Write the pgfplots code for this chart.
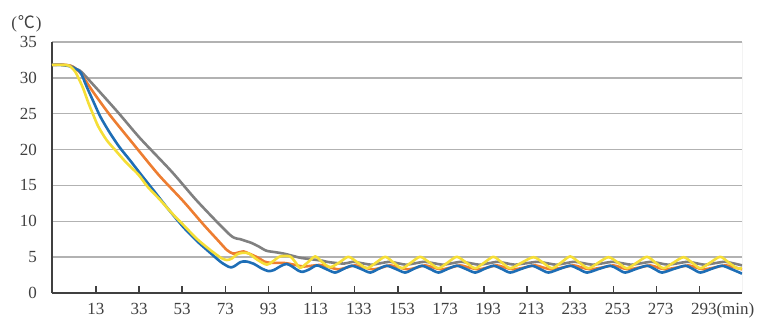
\documentclass[border=0pt]{standalone}
\usepackage{pgfplots}
\pgfplotsset{compat=1.18}
\usepackage{fontspec}
\setmainfont{Liberation Serif}
\newfontfamily\cjk{Noto Sans CJK SC}
\definecolor{cblue}{RGB}{30,110,182}
\definecolor{corange}{RGB}{237,125,49}
\definecolor{cgray}{RGB}{128,128,128}
\definecolor{cyellow}{RGB}{245,222,55}
\definecolor{axdark}{RGB}{64,64,64}
\definecolor{gridc}{RGB}{178,178,178}
\begin{document}
\begin{tikzpicture}
\useasboundingbox (-52bp,-25bp) rectangle (714bp,293bp);
\begin{axis}[
  at={(0,0)}, anchor=south west,
  scale only axis, width=690bp, height=251bp,
  xmin=-7.4, xmax=312.7, ymin=0, ymax=35,
  enlargelimits=false,
  axis lines=left,
  axis line style={-, line width=2.4bp, color=axdark},
  xtick={13,33,53,73,93,113,133,153,173,193,213,233,253,273,293},
  xticklabels={13,33,53,73,93,113,133,153,173,193,213,233,253,273,293(min)},
  ytick={0,5,10,15,20,25,30,35},
  yticklabels={0,5,10,15,20,25,30,35},
  tick align=inside,
  major tick length=7bp,
  xtick style={line width=1.6bp, color=axdark},
  ytick style={draw=none},
  ymajorgrids,
  grid style={line width=1.4bp, color=gridc},
  tick label style={font=\fontsize{17bp}{20bp}\selectfont, text=black!75, inner sep=0pt},
  xticklabel style={anchor=north west, xshift=-8.7bp, yshift=-10bp},
  yticklabel style={anchor=east, xshift=-15bp},
  every axis plot/.append style={line width=2.6bp, smooth, tension=0.45, line join=round},
]
\draw[line width=0.8bp, color=gridc!90!black] (rel axis cs:1,0) -- (rel axis cs:1,1);
% gray
\addplot[color=cgray] coordinates {
(-7.4,31.8) (-3,31.8) (0,31.75) (2,31.6) (4,31.2) (7,30.6) (22.6,25.4) (33.4,21.6) (48.2,16.9) (60,12.8) (75.2,8.1)
(80,7.5) (85,7.0) (88.4,6.5) (92,5.9) (96,5.7) (100,5.5) (104,5.2) (108,4.9) (113,4.7) (118,4.5) (121,4.3)
(128.1,4.1) (132.1,4.35) (136.4,4.15) (140.7,3.95) (145.0,4.15) (149.2,4.35) (153.0,4.15) (156.9,3.95)
(161.2,4.15) (165.4,4.35) (169.7,4.15) (173.9,3.95) (178.2,4.15) (182.4,4.35) (186.7,4.15) (190.9,3.95)
(195.2,4.15) (199.4,4.35) (203.3,4.15) (207.2,3.95) (212.6,4.15) (218.0,4.35) (222.3,4.15) (226.5,3.95)
(230.8,4.15) (235.0,4.35) (239.2,4.15) (243.5,3.95) (248.2,4.15) (252.8,4.35) (257.1,4.15) (261.3,3.95)
(266.0,4.15) (270.6,4.35) (274.5,4.15) (278.3,3.95) (283.0,4.15) (287.6,4.35) (291.5,4.15) (295.4,3.95)
(300.0,4.15) (304.6,4.35) (308.5,4.15) (312.7,3.85)
};
% orange
\addplot[color=corange] coordinates {
(-7.4,31.8) (-3,31.85) (1,31.7) (3.5,31.3) (6,30.6) (8,29.7) (12,27.9) (19.5,24.8) (30,20.9) (42,16.5)
(53.5,12.8) (63,9.5) (70,7.2) (73.7,6.0) (76.5,5.5) (78.5,5.6) (81.4,5.8) (84,5.5) (88.4,4.9) (91,4.4)
(94,4.2) (100,4.2) (104,4.0) (109,3.7) (113,3.8) (117,3.9) (121.3,3.6)
(125.4,3.3) (129.3,3.55) (133.2,3.85) (137.5,3.55) (141.7,3.3) (145.5,3.55) (149.4,3.85) (153.6,3.55)
(157.9,3.3) (161.8,3.55) (165.7,3.85) (169.5,3.55) (173.4,3.3) (177.6,3.55) (181.9,3.85) (186.1,3.55)
(190.4,3.3) (194.6,3.55) (198.9,3.85) (202.8,3.55) (206.7,3.3) (211.7,3.55) (216.7,3.85) (220.5,3.55)
(224.4,3.3) (229.5,3.55) (234.5,3.85) (238.4,3.55) (242.3,3.3) (247.7,3.55) (253.1,3.85) (256.5,3.55)
(260.0,3.3) (265.0,3.55) (270.1,3.85) (273.6,3.55) (277.1,3.3) (282.5,3.55) (287.9,3.85) (291.4,3.55)
(294.9,3.3) (299.9,3.55) (304.9,3.85) (309,3.6) (312.7,3.3)
};
% blue
\addplot[color=cblue] coordinates {
(-7.4,31.8) (-3,31.8) (1,31.6) (4,31.2) (6,30.7) (8.5,28.9) (11.8,26.7) (15,24.6) (19.5,22.3) (24,20.3)
(28.8,18.5) (34.2,16.4) (40,14.2) (46,11.9) (53.5,9.2) (60,7.2) (66,5.6) (71,4.3) (75,3.6) (77,3.7)
(80,4.3) (82.5,4.4) (86,4.1) (90,3.4) (93,3.05) (95.5,3.2) (99,3.8) (101.5,4.05) (104,3.7) (107,3.1)
(109,2.95) (112,3.3) (115.5,3.85) (119.7,3.35)
(123.9,2.85) (127.8,3.35) (131.7,3.8) (136.0,3.35) (140.2,2.85) (144.0,3.35) (147.9,3.8) (152.1,3.35)
(156.4,2.85) (160.3,3.35) (164.2,3.8) (168.0,3.35) (171.9,2.85) (176.1,3.35) (180.4,3.8) (184.6,3.35)
(188.9,2.85) (193.1,3.35) (197.4,3.8) (201.3,3.35) (205.2,2.85) (210.2,3.35) (215.2,3.8) (219.0,3.35)
(222.9,2.85) (228.0,3.35) (233.0,3.8) (236.9,3.35) (240.8,2.85) (246.2,3.35) (251.6,3.8) (255.0,3.35)
(258.5,2.85) (263.5,3.35) (268.6,3.8) (272.1,3.35) (275.6,2.85) (281.0,3.35) (286.4,3.8) (289.9,3.35)
(293.4,2.85) (298.4,3.35) (303.4,3.8) (308,3.3) (312.7,2.7)
};
% yellow
\addplot[color=cyellow] coordinates {
(-7.4,31.8) (-3,31.8) (0.5,31.7) (3.3,30.9) (5,29.9) (7.1,28.5) (9.5,26.5) (11.8,24.8) (14.1,23.2) (18,21.3)
(22.6,19.7) (27,18.2) (32.7,16.5) (37,14.8) (42.7,13.0) (48,11.2) (53.5,9.5) (60,7.5) (66,6.0) (71,4.9)
(73.7,4.6) (76,4.8) (78.5,5.4) (81,5.6) (84,5.5) (88,4.6) (92.3,3.95) (95,4.4) (98.4,5.1) (103,5.1)
(105.5,4.3) (107.7,3.5) (111,4.2) (114.7,5.1) (118,4.3) (121.6,3.6)
(125.9,4.25) (130.1,5.05) (134.4,4.25) (138.7,3.45) (143.0,4.25) (147.2,5.05) (151.0,4.25) (154.9,3.45)
(159.2,4.25) (163.4,5.05) (167.7,4.25) (171.9,3.45) (176.2,4.25) (180.4,5.05) (184.7,4.25) (188.9,3.45)
(193.2,4.25) (197.4,5.05) (201.3,4.25) (205.2,3.45) (210.6,4.25) (216.0,5.0) (220.3,4.25) (224.5,3.45)
(228.8,4.25) (233.0,5.1) (237.2,4.25) (241.5,3.45) (246.2,4.25) (250.8,5.0) (255.1,4.25) (259.3,3.45)
(264.0,4.25) (268.6,5.05) (272.5,4.25) (276.3,3.45) (281.0,4.25) (285.6,5.0) (289.5,4.25) (293.4,3.45)
(298.0,4.25) (302.6,5.05) (306.5,4.25) (310.4,3.45) (312.7,3.45)
};
\end{axis}
\node[font=\fontsize{17bp}{20bp}\selectfont, text=black!75, inner sep=0pt] at (-25.5bp,269bp) {(\kern1bp{\cjk ℃}\kern1bp)};
\end{tikzpicture}
\end{document}
